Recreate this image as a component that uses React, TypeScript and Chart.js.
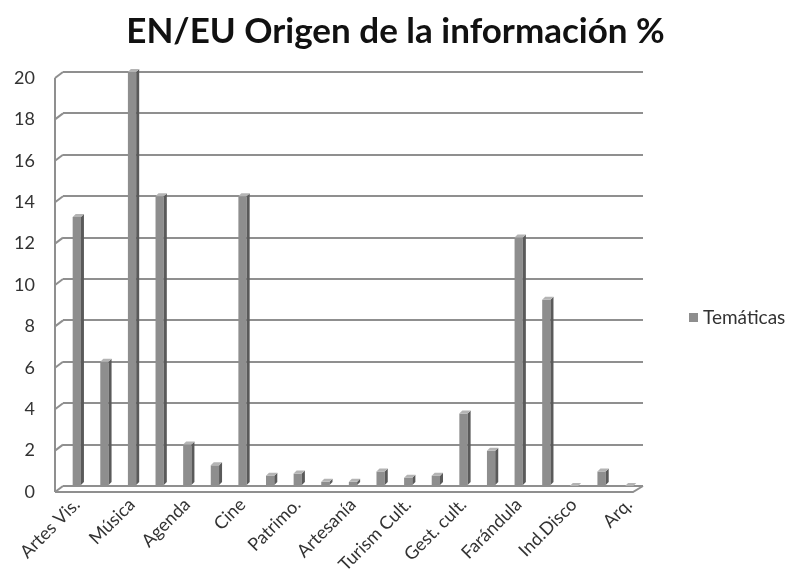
import { useEffect, useRef } from "react";
import { Chart, registerables } from "chart.js";

Chart.register(...registerables);

const chartTitle = "EN/EU Origen de la información %";
const seriesName = "Temáticas";
const categoryLabels = [
  "Artes Vis.", "", "Música", "", "Agenda", "", "Cine", "", "Patrimo.", "",
  "Artesanía", "", "Turism Cult.", "", "Gest. cult.", "", "Farándula", "",
  "Ind.Disco", "", "Arq.",
];
const seriesValues = [
  13, 6, 20, 14, 2, 1, 14, 0.5, 0.6, 0.2, 0.2, 0.7, 0.4, 0.5, 3.5, 1.7, 12, 9,
  0, 0.7, 0,
];
const yMin = 0;
const yMax = 20;
const yStep = 2;

const FONT = "Lato, 'Open Sans', sans-serif";
const GRID = "#8f8f8f";
const DEPTH_X = 8;
const DEPTH_Y = 6;

const wallsPlugin = {
  id: "walls3d",
  beforeDatasetsDraw(chart: any) {
    const { ctx, chartArea } = chart;
    const ys = chart.scales.y;
    const { left, right, bottom } = chartArea;
    ctx.save();
    ctx.strokeStyle = GRID;
    ctx.lineWidth = 2;
    ctx.beginPath();
    ctx.moveTo(left - DEPTH_X, ys.getPixelForValue(yMax) + DEPTH_Y);
    ctx.lineTo(left - DEPTH_X, bottom + DEPTH_Y);
    ctx.stroke();
    for (let v = yMin; v <= yMax; v += yStep) {
      const py = ys.getPixelForValue(v);
      ctx.beginPath();
      ctx.moveTo(left - DEPTH_X, py + DEPTH_Y);
      ctx.lineTo(left, py);
      ctx.stroke();
    }
    ctx.beginPath();
    ctx.moveTo(left - DEPTH_X, bottom + DEPTH_Y);
    ctx.lineTo(right - DEPTH_X - 2, bottom + DEPTH_Y);
    ctx.lineTo(right, bottom);
    ctx.stroke();
    ctx.restore();
  },
  afterDatasetsDraw(chart: any) {
    const { ctx } = chart;
    const meta = chart.getDatasetMeta(0);
    const d = 3;
    ctx.save();
    meta.data.forEach((bar: any) => {
      const { x, y, base, width } = bar.getProps(["x", "y", "base", "width"], true);
      const l = x - width / 2;
      const r = x + width / 2;
      ctx.fillStyle = "#5a5a5a";
      ctx.beginPath();
      ctx.moveTo(r, y);
      ctx.lineTo(r + d, y - d);
      ctx.lineTo(r + d, base - d);
      ctx.lineTo(r, base);
      ctx.closePath();
      ctx.fill();
      ctx.fillStyle = "#b4b4b4";
      ctx.beginPath();
      ctx.moveTo(l, y);
      ctx.lineTo(l + d, y - d);
      ctx.lineTo(r + d, y - d);
      ctx.lineTo(r, y);
      ctx.closePath();
      ctx.fill();
    });
    ctx.restore();
  },
  afterDraw(chart: any) {
    const { ctx } = chart;
    const ds = chart.data.datasets[0];
    ctx.save();
    ctx.fillStyle = ds.backgroundColor;
    ctx.fillRect(689, 313, 9, 9);
    ctx.fillStyle = "#333333";
    ctx.font = `19px ${FONT}`;
    ctx.textBaseline = "middle";
    ctx.textAlign = "left";
    ctx.fillText(ds.label, 703, 318);
    ctx.restore();
  },
};

export default function App() {
  const canvasRef = useRef<HTMLCanvasElement | null>(null);

  useEffect(() => {
    if (!canvasRef.current) return;
    const chart = new Chart(canvasRef.current, {
      type: "bar",
      data: {
        labels: categoryLabels,
        datasets: [
          {
            label: seriesName,
            data: seriesValues,
            backgroundColor: "#8e8e8e",
            borderWidth: 0,
            barPercentage: 0.3,
            categoryPercentage: 1,
          },
        ],
      },
      options: {
        animation: false,
        responsive: true,
        maintainAspectRatio: false,
        layout: { padding: 0 },
        plugins: {
          legend: { display: false },
          tooltip: { enabled: false },
          title: {
            display: true,
            text: chartTitle,
            color: "#111111",
            font: { family: FONT, size: 35, weight: "bold", lineHeight: 1.2 },
            padding: { top: 11, bottom: 19 },
          },
        },
        scales: {
          x: {
            grid: { display: false },
            border: { display: false },
            ticks: {
              autoSkip: false,
              maxRotation: 45,
              minRotation: 45,
              padding: 0,
              color: "#333333",
              font: { family: FONT, size: 18 },
            },
            afterFit: (scale: any) => {
              scale.height = 85;
            },
          },
          y: {
            min: yMin,
            max: yMax,
            border: { display: false },
            grid: { color: GRID, lineWidth: 2, drawTicks: false },
            ticks: {
              stepSize: yStep,
              padding: 28,
              labelOffset: DEPTH_Y,
              color: "#333333",
              font: { family: FONT, size: 18 },
            },
            afterFit: (scale: any) => {
              scale.width = 63;
            },
          },
          legendSpace: {
            type: "linear",
            position: "right",
            display: true,
            grid: { display: false },
            border: { display: false },
            ticks: { display: false },
            afterFit: (scale: any) => {
              scale.width = 148;
            },
          },
        },
      },
      plugins: [wallsPlugin],
    });
    return () => chart.destroy();
  }, []);

  return (
    <div style={{ position: "absolute", left: 0, top: 0, width: 791, height: 571 }}>
      <canvas ref={canvasRef} />
    </div>
  );
}
